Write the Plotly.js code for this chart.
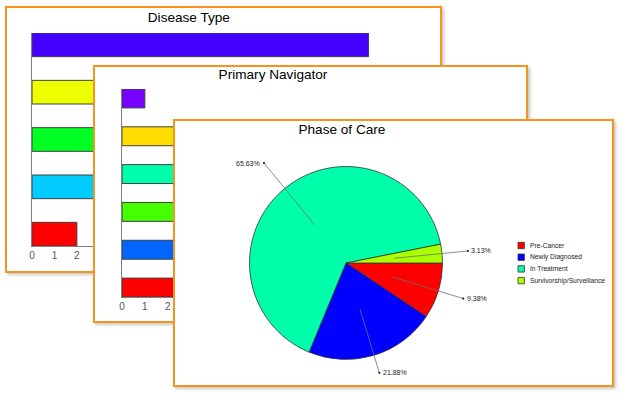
<!DOCTYPE html>
<html><head><meta charset="utf-8">
<script src="https://cdn.plot.ly/plotly-3.0.1.min.js"></script>
<style>
html,body{margin:0;padding:0;background:#fff;width:624px;height:396px;overflow:hidden}
.panel{position:absolute;border:2px solid #F7941D;background:#fff;box-shadow:2px 2px 3px rgba(0,0,0,0.22)}
</style></head><body>
<div id="p1" class="panel" style="left:5px;top:6px;width:433px;height:263px;z-index:1"></div>
<div id="p2" class="panel" style="left:93px;top:65px;width:431px;height:254px;z-index:2"></div>
<div id="p3" class="panel" style="left:173px;top:119px;width:437px;height:264px;z-index:3"></div>
<script>
// ---- data ----
const diseaseCategories = ['Disease 1','Disease 2','Disease 3','Disease 4','Disease 5'];
const diseaseCounts = [15, 5, 4, 6, 2];
const diseaseColors = ['#4400FF','#EEFF00','#00FF22','#00CCFF','#FF0000'];

const navigatorCategories = ['Navigator 1','Navigator 2','Navigator 3','Navigator 4','Navigator 5','Navigator 6'];
const navigatorCounts = [1, 6, 5, 4, 7, 8];
const navigatorColors = ['#7700FF','#FFDD00','#00FFAA','#44FF00','#0066FF','#FF0000'];

const phaseLabels = ['Pre-Cancer','Newly Diagnosed','In Treatment','Survivorship/Surveillance'];
const phaseCounts = [3, 7, 21, 1];
const phaseColors = ['#FF0000','#0000FF','#00FFAA','#AAFF00'];

// ---- layout constants ----
const FONT = '"Liberation Sans", Arial, sans-serif';
const LABEL_RADIUS = [1.27, 1.19, 1.34, 1.27];

function barChart(id, cats, vals, cols, title, w, h, m, xmax, tx, ty) {
  Plotly.newPlot(id, [{
    type:'bar', orientation:'h', y:cats, x:vals, width:0.5,
    marker:{color:cols, line:{color:'#404040', width:1}}, hoverinfo:'none'
  }], {
    width:w, height:h, margin:m, paper_bgcolor:'#fff', plot_bgcolor:'#fff',
    showlegend:false, font:{family:FONT},
    title:{text:title, font:{family:FONT, size:13.6, color:'#000'},
      x:tx, xref:'container', xanchor:'center', y:ty, yref:'container', yanchor:'middle'},
    xaxis:{range:[0,xmax], tick0:0, dtick:1, showgrid:false, zeroline:false,
      showline:true, linecolor:'#808080', linewidth:1, ticks:'',
      tickfont:{family:FONT, size:10, color:'#555'}},
    yaxis:{type:'category', categoryorder:'array', categoryarray:cats,
      range:[cats.length-0.75, -0.25], showticklabels:false, showgrid:false,
      zeroline:false, showline:true, linecolor:'#808080', linewidth:1, ticks:''}
  }, {staticPlot:true});
}

barChart('p1', diseaseCategories, diseaseCounts, diseaseColors, 'Disease Type',
  433, 263, {l:25, r:49, t:25, b:25, pad:0}, 16, 0.42, 1 - 9.5/263);
barChart('p2', navigatorCategories, navigatorCounts, navigatorColors, 'Primary Navigator',
  431, 254, {l:27, r:84, t:22, b:24, pad:0}, 14, 0.413, 1 - 7/254);

// ---- pie ----
const W3 = 437, H3 = 264;
const pieDomain = {x:[0.1705, 0.6121], y:[0.0966, 0.8277]};
const cx = (pieDomain.x[0] + pieDomain.x[1]) / 2 * W3;
const cy = (1 - (pieDomain.y[0] + pieDomain.y[1]) / 2) * H3;
const R = Math.min((pieDomain.x[1]-pieDomain.x[0]) * W3, (pieDomain.y[1]-pieDomain.y[0]) * H3) / 2;
const total = phaseCounts.reduce((a,b)=>a+b, 0);

const shapes = [], annotations = [];
const px = x => x / W3, py = y => 1 - y / H3;
let cum = 0;
phaseCounts.forEach((v, i) => {
  const mid = -(cum + v/2) / total * 2 * Math.PI;
  cum += v;
  const dx = Math.cos(mid), dy = -Math.sin(mid);
  const x0 = cx + 0.5*R*dx, y0 = cy + 0.5*R*dy;
  const x1 = cx + LABEL_RADIUS[i]*R*dx, y1 = cy + LABEL_RADIUS[i]*R*dy;
  shapes.push({type:'line', xref:'paper', yref:'paper', layer:'above',
    x0:px(x0), y0:py(y0), x1:px(x1), y1:py(y1), line:{color:'#707070', width:0.8}});
  shapes.push({type:'circle', xref:'paper', yref:'paper', layer:'above',
    x0:px(x1-1.1), x1:px(x1+1.1), y0:py(y1-1.1), y1:py(y1+1.1),
    fillcolor:'#222', line:{color:'#222', width:0}});
  const right = dx >= 0;
  annotations.push({xref:'paper', yref:'paper', showarrow:false,
    x:px(x1 + (right ? 1.5 : -1.5)), y:py(y1), xanchor: right ? 'left' : 'right', yanchor:'middle',
    text:(v/total*100).toFixed(2) + '%', font:{family:FONT, size:7, color:'#222'}});
});

// custom legend
const legX = 343, legY0 = 124.5, legStep = 11.7, sq = 6.4;
phaseLabels.forEach((lab, i) => {
  const yc = legY0 + i*legStep;
  shapes.push({type:'rect', xref:'paper', yref:'paper', layer:'above',
    x0:px(legX), x1:px(legX+sq), y0:py(yc-sq/2), y1:py(yc+sq/2),
    fillcolor:phaseColors[i], line:{color:'#333', width:0.8}});
  annotations.push({xref:'paper', yref:'paper', showarrow:false,
    x:px(legX+sq+3.5), y:py(yc), xanchor:'left', yanchor:'middle',
    text:lab, font:{family:FONT, size:6.7, color:'#222'}});
});

Plotly.newPlot('p3', [{
  type:'pie', labels:phaseLabels, values:phaseCounts, sort:false,
  direction:'clockwise', rotation:90, domain:pieDomain,
  marker:{colors:phaseColors, line:{color:'#333', width:0.8}},
  textinfo:'none', hoverinfo:'none'
}], {
  width:W3, height:H3, margin:{l:0, r:0, t:0, b:0}, paper_bgcolor:'#fff',
  showlegend:false, font:{family:FONT},
  title:{text:'Phase of Care', font:{family:FONT, size:13.6, color:'#000'},
    x:0.382, xref:'container', xanchor:'center', y:1 - 8.5/264, yref:'container', yanchor:'middle'},
  shapes:shapes, annotations:annotations
}, {staticPlot:true});
</script>
</body></html>
